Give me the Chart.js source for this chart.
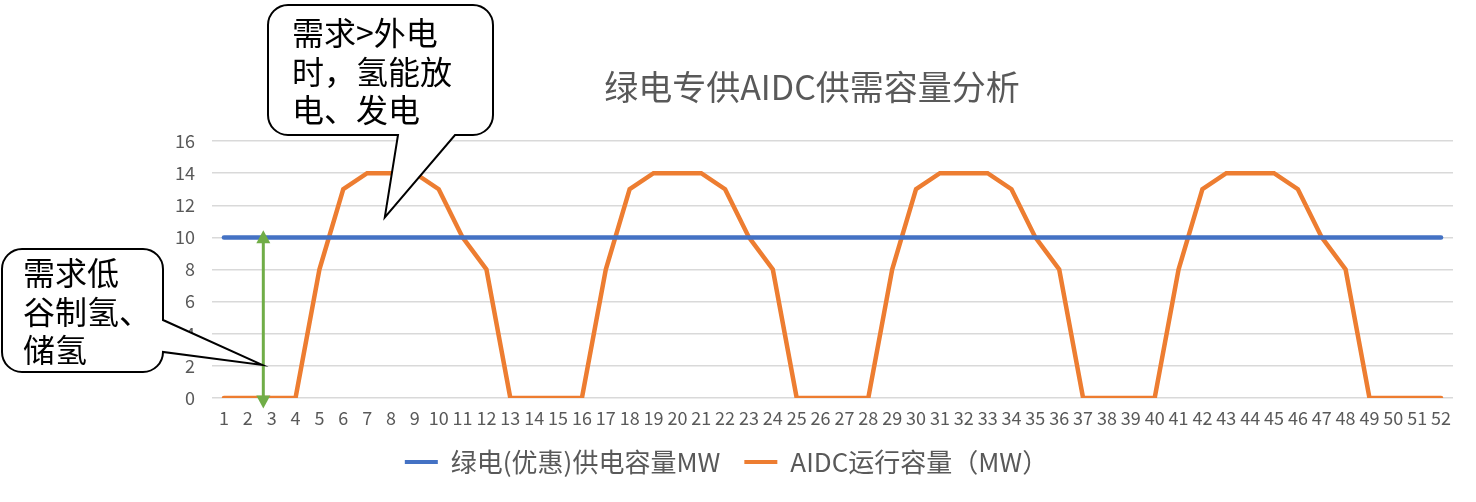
<!DOCTYPE html>
<html>
<head>
<meta charset="utf-8">
<title>绿电专供AIDC供需容量分析</title>
<script src="https://cdn.jsdelivr.net/npm/chart.js@4.4.0/dist/chart.umd.min.js"></script>
<style>
  html, body { margin: 0; padding: 0; background: #fff; }
  #wrap { width: 1476px; height: 502px; }
</style>
</head>
<body>
<div id="wrap"><canvas id="chart"></canvas></div>
<script>
// data
const weeks = ['1', '2', '3', '4', '5', '6', '7', '8', '9', '10', '11', '12', '13',
  '14', '15', '16', '17', '18', '19', '20', '21', '22', '23', '24', '25', '26',
  '27', '28', '29', '30', '31', '32', '33', '34', '35', '36', '37', '38', '39',
  '40', '41', '42', '43', '44', '45', '46', '47', '48', '49', '50', '51', '52'];
const greenSupply = [10, 10, 10, 10, 10, 10, 10, 10, 10, 10, 10, 10, 10,
  10, 10, 10, 10, 10, 10, 10, 10, 10, 10, 10, 10, 10,
  10, 10, 10, 10, 10, 10, 10, 10, 10, 10, 10, 10, 10,
  10, 10, 10, 10, 10, 10, 10, 10, 10, 10, 10, 10, 10];
const aidcLoad = [0, 0, 0, 0, 8, 13, 14, 14, 14, 13, 10, 8, 0,
  0, 0, 0, 8, 13, 14, 14, 14, 13, 10, 8, 0, 0,
  0, 0, 8, 13, 14, 14, 14, 13, 10, 8, 0, 0, 0,
  0, 8, 13, 14, 14, 14, 13, 10, 8, 0, 0, 0, 0];
const yMin = 0;
const yMax = 16;
const yStep = 2;

const chartTitle = '绿电专供AIDC供需容量分析';
const lowNote = ['需求低', '谷制氢、', '储氢'];
const highNote = ['需求>外电', '时，氢能放', '电、发电'];

const FONT = '"Noto Sans CJK SC", "Noto Sans", sans-serif';
const GREY = '#595959';
Chart.defaults.font.family = FONT;

// speech bubble: rounded box with a pointed tail
function drawCallout(ctx, box, side, a, b, tip, lines, tx, ty) {
  const { x, y, w, h, r } = box;
  const R = x + w, B = y + h;
  ctx.beginPath();
  ctx.moveTo(x + r, y);
  ctx.lineTo(R - r, y);
  ctx.arcTo(R, y, R, y + r, r);
  if (side === 'right') {
    ctx.lineTo(R, a);
    ctx.lineTo(tip.x, tip.y);
    ctx.lineTo(R, b);
  }
  ctx.lineTo(R, B - r);
  ctx.arcTo(R, B, R - r, B, r);
  if (side === 'bottom') {
    ctx.lineTo(b, B);
    ctx.lineTo(tip.x, tip.y);
    ctx.lineTo(a, B);
  }
  ctx.lineTo(x + r, B);
  ctx.arcTo(x, B, x, B - r, r);
  ctx.lineTo(x, y + r);
  ctx.arcTo(x, y, x + r, y, r);
  ctx.closePath();
  ctx.fillStyle = '#fff';
  ctx.fill();
  ctx.lineWidth = 2;
  ctx.strokeStyle = '#000';
  ctx.lineJoin = 'miter';
  ctx.stroke();

  ctx.fillStyle = '#000';
  ctx.font = '32px ' + FONT;
  ctx.textAlign = 'left';
  ctx.textBaseline = 'middle';
  lines.forEach((t, i) => ctx.fillText(t, tx, ty + i * 38.5));
}

const notesPlugin = {
  id: 'notes',
  afterDatasetsDraw(chart) {
    const { ctx, scales: { x, y } } = chart;
    ctx.save();

    // title sits a little left of the plot centre, as in the original
    ctx.fillStyle = GREY;
    ctx.font = '34px ' + FONT;
    ctx.textAlign = 'center';
    ctx.textBaseline = 'middle';
    ctx.fillText(chartTitle, 812, 87);

    // green double arrow between 0 and 10
    const ax = x.getPixelForValue(1.65);
    const top = y.getPixelForValue(10.45);
    const bot = y.getPixelForValue(-0.66);
    ctx.strokeStyle = '#70ad47';
    ctx.fillStyle = '#70ad47';
    ctx.lineWidth = 3;
    ctx.beginPath();
    ctx.moveTo(ax, top + 10);
    ctx.lineTo(ax, bot - 10);
    ctx.stroke();
    ctx.beginPath();
    ctx.moveTo(ax, top);
    ctx.lineTo(ax - 7, top + 13);
    ctx.lineTo(ax + 7, top + 13);
    ctx.closePath();
    ctx.fill();
    ctx.beginPath();
    ctx.moveTo(ax, bot);
    ctx.lineTo(ax - 7, bot - 13);
    ctx.lineTo(ax + 7, bot - 13);
    ctx.closePath();
    ctx.fill();

    const tipLow = { x: x.getPixelForValue(1.6), y: y.getPixelForValue(2.06) };
    drawCallout(ctx, { x: 2, y: 249, w: 161, h: 123, r: 20 }, 'right', 320, 352,
      tipLow, lowNote, 23, 273);

    const tipHigh = { x: x.getPixelForValue(6.74), y: y.getPixelForValue(11.25) };
    drawCallout(ctx, { x: 268, y: 5, w: 225, h: 130, r: 20 }, 'bottom', 398, 455,
      tipHigh, highNote, 292, 33);

    ctx.restore();
  }
};

const ctx = document.getElementById('chart').getContext('2d');
new Chart(ctx, {
  type: 'line',
  data: {
    labels: weeks,
    datasets: [
      {
        label: '绿电(优惠)供电容量MW',
        data: greenSupply,
        borderColor: '#4472c4',
        backgroundColor: '#4472c4',
        borderWidth: 4.5,
        borderCapStyle: 'round',
        pointRadius: 0,
        tension: 0
      },
      {
        label: 'AIDC运行容量（MW）',
        data: aidcLoad,
        borderColor: '#ed7d31',
        backgroundColor: '#ed7d31',
        borderWidth: 4.5,
        borderCapStyle: 'round',
        pointRadius: 0,
        tension: 0
      }
    ]
  },
  options: {
    responsive: true,
    maintainAspectRatio: false,
    animation: false,
    layout: { padding: { left: 0, right: 23, top: 141, bottom: 17 } },
    plugins: {
      title: { display: false },
      legend: {
        position: 'bottom',
        labels: {
          color: GREY,
          font: { size: 26 },
          boxWidth: 33,
          boxHeight: 4,
          padding: 24,
          generateLabels(chart) {
            return Chart.defaults.plugins.legend.labels.generateLabels(chart)
              .map((item) => ({ ...item, lineWidth: 0, fillStyle: item.strokeStyle }));
          }
        }
      },
      tooltip: { enabled: false }
    },
    scales: {
      x: {
        offset: true,
        grid: { display: false, drawTicks: false },
        border: { display: false },
        ticks: {
          color: GREY,
          font: { size: 18 },
          padding: 9,
          maxRotation: 0,
          autoSkip: false
        },
        afterFit(scale) { scale.height = 27; }
      },
      y: {
        min: yMin,
        max: yMax,
        ticks: { stepSize: yStep, color: GREY, font: { size: 18 }, padding: 17 },
        grid: { color: '#d9d9d9', lineWidth: 1.5, drawTicks: false },
        border: { display: false },
        afterFit(scale) { scale.width = 212; }
      }
    }
  },
  plugins: [notesPlugin]
});
</script>
</body>
</html>
